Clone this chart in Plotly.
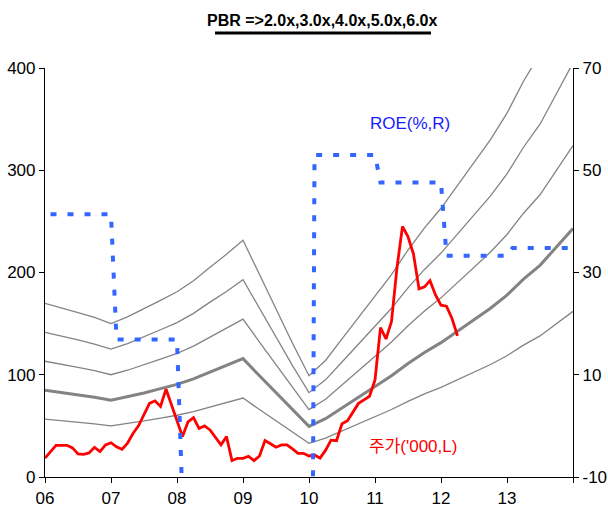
import plotly.graph_objects as go

# Month-end stock price ('000 KRW), monthly from Jan 2006 to Apr 2012
price = [18.5, 25, 31, 31, 31, 28.5, 22.5, 22.2, 23.5, 29, 24.8, 31.4,
         33.5, 29.5, 27, 33, 42.5, 50, 61, 72, 74.5, 69, 86, 71,
         56, 39.5, 54, 58, 47.5, 50, 46, 39, 31.5, 39.5, 16, 18.3,
         18.3, 20.3, 16, 20.6, 35.6, 32.5, 29.1, 31.4, 31.4, 27.5, 23.2, 23.2,
         20.6, 21.5, 18.5, 26, 36, 35.5, 52, 55, 63, 72, 75.5, 79,
         95, 146, 135, 152, 205, 245, 235, 218, 184, 186, 192, 178,
         168, 167, 155, 138]
price_t = [2006 + i / 12 for i in range(len(price))]

# Book value per share ('000 KRW), quarterly from 2006 to 2014
bps = [28.3, 27.6, 26.8, 26.0, 25.0, 26.1, 27.4, 28.8,
       30.2, 32.0, 34.2, 36.3, 38.6, 33.0, 27.4, 21.8,
       16.5, 19.0, 22.5, 26.0, 29.5, 33.0, 37.0, 40.6,
       43.8, 47.6, 51.2, 55.0, 59.3, 64.5, 69.0, 75.0, 81.0]
bps_t = [2006 + q / 4 for q in range(len(bps))]

multiples = [2.0, 3.0, 4.0, 5.0, 6.0]

# Annual ROE (%), each year held flat across its months
roe_years = [2006, 2007, 2008, 2009, 2010, 2011, 2012, 2013]
roe_annual = [41.4, 16.9, -15, -180, 53, 47.6, 33.3, 34.8]

roe_t, roe = [], []
for yr, v in zip(roe_years, roe_annual):
    for m in range(1, 13):
        roe_t.append(yr + m / 12)
        roe.append(v)

year_ticks = [2006, 2007, 2008, 2009, 2010, 2011, 2012, 2013, 2014]
year_text = ["06", "07", "08", "09", "10", "11", "12", "13", ""]
left_ticks = [0, 100, 200, 300, 400]
right_ticks = [-10, 10, 30, 50, 70]
right_text = ["-10", "10", "30", "50", "70"]

FONT = "Liberation Sans, Arial, Noto Sans CJK KR, sans-serif"

fig = go.Figure()

for k in multiples:
    fig.add_trace(go.Scatter(
        x=bps_t, y=[b * k for b in bps], mode="lines",
        line=dict(color="#838383", width=3 if k == 3.0 else 1.3),
        showlegend=False, hoverinfo="skip"))

fig.add_trace(go.Scatter(
    x=price_t, y=price, mode="lines",
    line=dict(color="#FF0000", width=2.8),
    showlegend=False))

fig.add_trace(go.Scatter(
    x=roe_t, y=roe, mode="lines", yaxis="y2",
    line=dict(color="#3366FF", width=4, dash="6px,11px"),
    showlegend=False))

fig.add_annotation(x=2011.53, y=346, xref="x", yref="y", text="ROE(%,R)",
                   showarrow=False, font=dict(family=FONT, size=17, color="#1a1aff"))
fig.add_annotation(x=2011.58, y=30, xref="x", yref="y", text="주가('000,L)",
                   showarrow=False, font=dict(family=FONT, size=17, color="#FF0000"))

fig.add_annotation(x=0.5265, y=1.117, xref="paper", yref="paper",
                   xanchor="center", yanchor="middle",
                   text="<b>PBR =>2.0x,3.0x,4.0x,5.0x,6.0x</b>", showarrow=False,
                   font=dict(family=FONT, size=16, color="#000000"))
fig.add_shape(type="line", xref="paper", yref="paper",
              x0=0.322, x1=0.731, y0=1.0856, y1=1.0856,
              line=dict(color="#000000", width=3))

axis_common = dict(showgrid=False, zeroline=False, showline=True,
                   automargin=False,
                   linecolor="#000000", linewidth=1.2, ticks="outside",
                   ticklen=5, tickwidth=1.2, tickcolor="#000000",
                   tickfont=dict(family=FONT, size=17, color="#000000"))

fig.update_layout(
    width=608, height=524,
    margin=dict(l=45, r=35, t=68, b=47),
    paper_bgcolor="#FFFFFF", plot_bgcolor="#FFFFFF",
    showlegend=False,
    xaxis=dict(range=[2006, 2014], tickvals=year_ticks, ticktext=year_text,
               **axis_common),
    yaxis=dict(range=[0, 400], tickvals=left_ticks, **axis_common),
    yaxis2=dict(range=[-10, 70], tickvals=right_ticks, ticktext=right_text,
                overlaying="y", side="right", **axis_common),
)

fig.write_html("out.html")
